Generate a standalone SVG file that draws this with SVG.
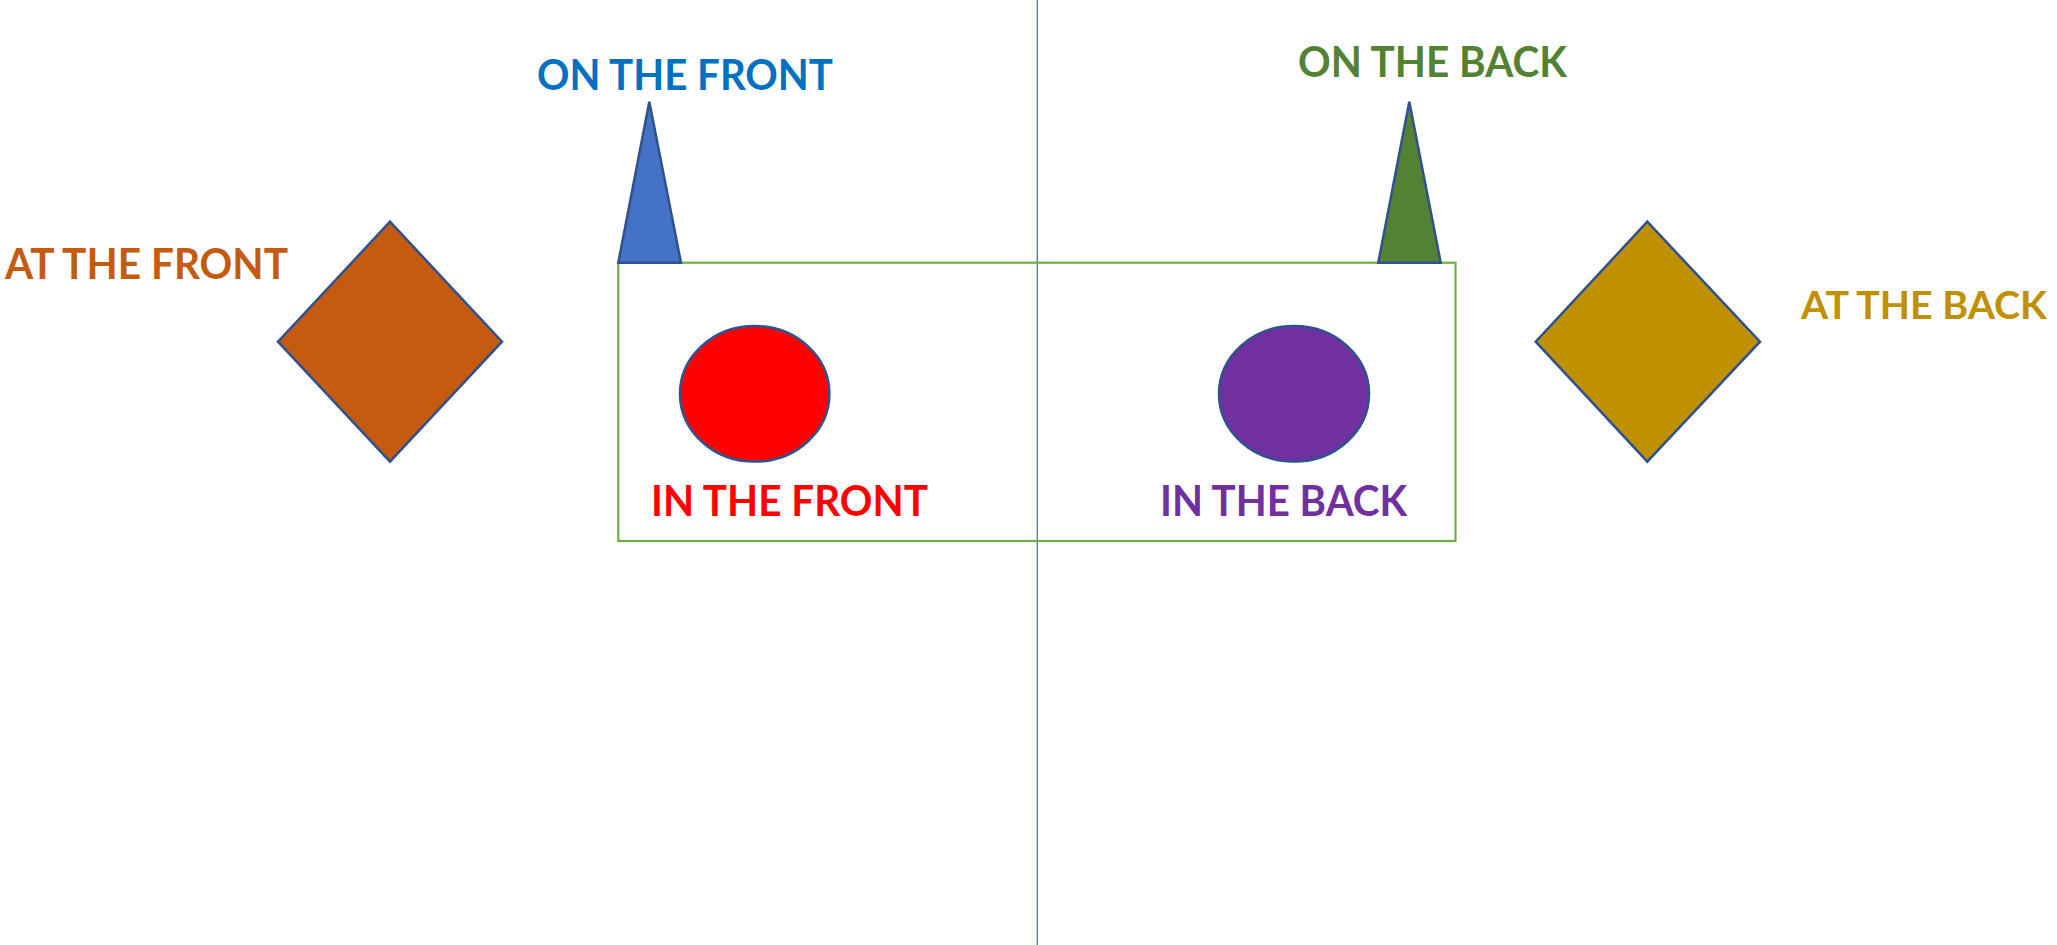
<svg xmlns="http://www.w3.org/2000/svg" width="2057" height="945" viewBox="0 0 2057 945">
<style>
.lbl{font-family:Lato,"Open Sans","Liberation Sans",sans-serif;font-weight:bold;font-size:42px}
.shp{stroke:#2F528F;stroke-width:2.5}
</style>
<rect x="0" y="0" width="2057" height="945" fill="#FFFFFF"/>
<g id="connectors">
<line x1="1037.3" y1="0" x2="1037.3" y2="945" stroke="#4472C4" stroke-width="1.3"/>
</g>
<g id="box">
<rect x="618.3" y="262.7" width="837.2" height="278.3" fill="none" stroke="#70AD47" stroke-width="2.2"/>
</g>
<g id="tri-front">
<polygon class="shp" points="649.3,101.7 681,262.7 618.3,262.7" fill="#4472C4"/>
</g>
<g id="tri-back">
<polygon class="shp" points="1409.3,101.7 1440.7,262.7 1378.3,262.7" fill="#548235"/>
</g>
<g id="diamond-front">
<polygon class="shp" points="390,221.7 502,341.7 390,461.7 278,341.7" fill="#C55A11"/>
</g>
<g id="diamond-back">
<polygon class="shp" points="1647.3,221.7 1760,341.7 1647.3,461.7 1535.7,341.7" fill="#BF9000"/>
</g>
<g id="ellipse-front">
<ellipse class="shp" cx="754.7" cy="393.8" rx="74.7" ry="67.8" fill="#FF0000"/>
</g>
<g id="ellipse-back">
<ellipse class="shp" cx="1294" cy="393.8" rx="75" ry="67.8" fill="#7030A0"/>
</g>
<g id="label-at-front">
<text class="lbl" x="5" y="279" fill="#C55A11" textLength="283" lengthAdjust="spacingAndGlyphs">AT THE FRONT</text>
</g>
<g id="label-on-front">
<text class="lbl" x="537" y="90" fill="#0070C0" textLength="296" lengthAdjust="spacingAndGlyphs">ON THE FRONT</text>
</g>
<g id="label-on-back">
<text class="lbl" x="1298" y="77" fill="#548235" textLength="269" lengthAdjust="spacingAndGlyphs">ON THE BACK</text>
</g>
<g id="label-at-back">
<text class="lbl" x="1801" y="319" fill="#BF9000" font-size="39" style="font-size:39px" textLength="246" lengthAdjust="spacingAndGlyphs">AT THE BACK</text>
</g>
<g id="label-in-front">
<text class="lbl" x="651" y="516" fill="#FF0000" textLength="277" lengthAdjust="spacingAndGlyphs">IN THE FRONT</text>
</g>
<g id="label-in-back">
<text class="lbl" x="1160" y="516" fill="#7030A0" textLength="247" lengthAdjust="spacingAndGlyphs">IN THE BACK</text>
</g>
</svg>
